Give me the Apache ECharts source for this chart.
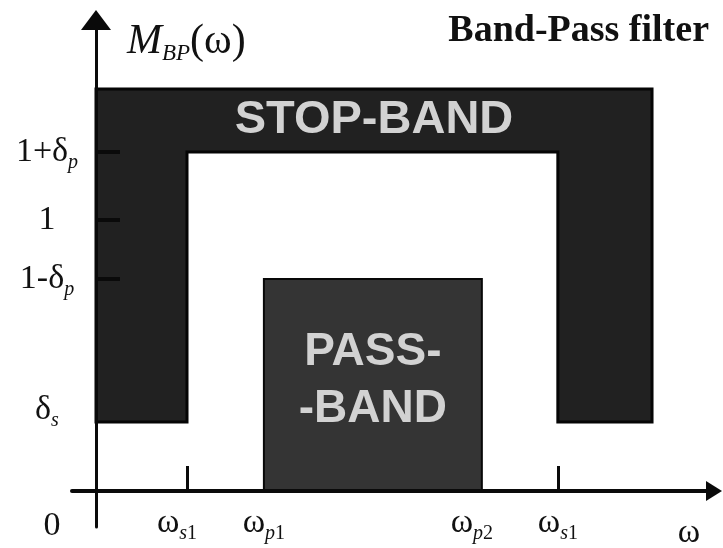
<!DOCTYPE html>
<html><head><meta charset="utf-8">
<script src="https://cdn.jsdelivr.net/npm/echarts@6/dist/echarts.min.js"></script>
<style>html,body{margin:0;padding:0;background:#fff}#c{width:723px;height:548px}</style>
</head><body><div id="c"></div>
<script>
// ---- data ----
const freqLabels = ['ωs1', 'ωp1', 'ωp2', 'ωs1'];
const freqValues = [2.0, 3.69, 8.48, 10.15];
const freqTicks = [2.0, 10.15];
const stopBandEdges = [0, 12.22];
const magLabels = ['δs', '1-δp', '1', '1+δp'];
const magValues = [0.255, 0.782, 1.0, 1.251];
const magTicks = [0.782, 1.0, 1.251];
const stopBandTop = 1.483;
const bandNames = ['STOP-BAND', 'PASS-\n-BAND'];

// ---- derived shapes ----
const ws1 = freqValues[0], wp1 = freqValues[1], wp2 = freqValues[2], ws2 = freqValues[3];
const ds = magValues[0], pLow = magValues[1], pHigh = magValues[3];
const stopVertices = [
  [stopBandEdges[0], stopBandTop], [stopBandEdges[1], stopBandTop],
  [stopBandEdges[1], ds], [ws2, ds], [ws2, pHigh], [ws1, pHigh],
  [ws1, ds], [stopBandEdges[0], ds]
];
const passRect = [[wp1, 0, wp2, pLow]];

const SERIF = '"Liberation Serif", "Times New Roman", serif';
const INK = '#111';

const xLabelText = [
  '{w|ω}{si|s}{snL|1}',
  '{w|ω}{si|p}{sn|1}',
  '{w|ω}{si|p}{snL|2}',
  '{w|ω}{si|s}{sn|1}'
];
const yLabelText = [
  '{d2|δ}{s2|s}',
  '{m|1-δ}{s|p}',
  '{m|1}',
  '{m|1+δ}{s|p}'
];

const chart = echarts.init(document.getElementById('c'));
chart.setOption({
  backgroundColor: '#fff',
  animation: false,
  title: {
    text: 'Band-Pass filter', right: 14, top: 12, padding: 0,
    textStyle: { fontFamily: SERIF, fontWeight: 'bold', fontSize: 38, color: INK }
  },
  grid: { left: 72, right: 9, top: 20, bottom: 21, containLabel: false, outerBoundsMode: 'none' },
  xAxis: {
    type: 'value', min: -0.5275, max: 13.582, z: 5,
    splitLine: { show: false },
    axisLine: { show: true, onZero: true, symbol: ['none', 'triangle'], symbolSize: [20, 16],
      lineStyle: { color: '#0a0a0a', width: 4 } },
    axisTick: { show: true, customValues: freqTicks, inside: true, length: 25,
      lineStyle: { color: '#0a0a0a', width: 3 } },
    axisLabel: {
      show: true, customValues: freqValues, margin: -21, hideOverlap: false,
      formatter: function (v) { const i = freqValues.indexOf(v); return i < 0 ? '' : xLabelText[i]; },
      rich: {
        w: { fontFamily: SERIF, fontSize: 34, lineHeight: 34, color: INK },
        si: { fontFamily: SERIF, fontSize: 20, fontStyle: 'italic', lineHeight: 34, verticalAlign: 'top', padding: [18, 0, 0, 0], color: INK },
        sn: { fontFamily: SERIF, fontSize: 20, lineHeight: 34, verticalAlign: 'top', padding: [18, 0, 0, 0], color: INK },
        snL: { fontFamily: SERIF, fontSize: 20, lineHeight: 34, verticalAlign: 'top', padding: [18, 20, 0, 0], color: INK }
      }
    }
  },
  yAxis: {
    type: 'value', min: -0.1328, max: 1.738, z: 5,
    splitLine: { show: false },
    axisLine: { show: true, onZero: true, symbol: ['none', 'triangle'], symbolSize: [30, 20],
      lineStyle: { color: '#0a0a0a', width: 3 } },
    axisTick: { show: true, customValues: magTicks, inside: true, length: 24,
      lineStyle: { color: '#0a0a0a', width: 4 } },
    axisLabel: {
      show: true, customValues: magValues, margin: 25, align: 'center', hideOverlap: false,
      formatter: function (v) { const i = magValues.indexOf(v); return i < 0 ? '' : yLabelText[i]; },
      rich: {
        m: { fontFamily: SERIF, fontSize: 34, lineHeight: 34, color: INK },
        s: { fontFamily: SERIF, fontSize: 20, fontStyle: 'italic', lineHeight: 34, verticalAlign: 'top', padding: [18, 0, 0, 0], color: INK },
        d2: { fontFamily: SERIF, fontSize: 34, lineHeight: 58, verticalAlign: 'top', color: INK },
        s2: { fontFamily: SERIF, fontSize: 20, fontStyle: 'italic', lineHeight: 58, verticalAlign: 'top', padding: [18, 0, 0, 0], color: INK }
      }
    }
  },
  graphic: [
    { type: 'text', x: 127, y: 42, z: 10,
      style: { text: '{a|M}{b|BP}{c|(ω)}', verticalAlign: 'middle', align: 'left',
        rich: {
          a: { fontFamily: SERIF, fontSize: 42, fontStyle: 'italic', lineHeight: 42, fill: INK, color: INK },
          b: { fontFamily: SERIF, fontSize: 23, fontStyle: 'italic', lineHeight: 42, verticalAlign: 'top', padding: [21, 0, 0, 0], fill: INK, color: INK },
          c: { fontFamily: SERIF, fontSize: 42, lineHeight: 42, fill: INK, color: INK }
        } } },
    { type: 'text', x: 52, y: 526, style: { text: '0', font: '34px ' + SERIF, fill: INK, align: 'center', verticalAlign: 'middle' } },
    { type: 'text', x: 689, y: 533, style: { text: 'ω', font: '34px ' + SERIF, fill: INK, align: 'center', verticalAlign: 'middle' } }
  ],
  series: [
    {
      type: 'custom', coordinateSystem: 'cartesian2d', z: 2, silent: true,
      data: stopVertices, encode: { x: 0, y: 1 },
      renderItem: function (params, api) {
        if (params.dataIndex !== 0) return null;
        const pts = stopVertices.map(function (p) { return api.coord(p); });
        const tl = api.coord([stopBandEdges[0], stopBandTop]);
        const br = api.coord([stopBandEdges[1], pHigh]);
        return { type: 'group', children: [
          { type: 'polygon', shape: { points: pts }, style: { fill: '#212121', stroke: '#050505', lineWidth: 3 } },
          { type: 'text', x: (tl[0] + br[0]) / 2, y: (tl[1] + br[1]) / 2,
            style: { text: bandNames[0], fill: '#d2d2d2', font: 'bold 47px "Liberation Sans", Arial, sans-serif',
              align: 'center', verticalAlign: 'middle', textAlign: 'center', textVerticalAlign: 'middle' } }
        ] };
      }
    },
    {
      type: 'custom', coordinateSystem: 'cartesian2d', z: 2, silent: true,
      data: passRect, encode: { x: [0, 2], y: [1, 3] },
      renderItem: function (params, api) {
        const p0 = api.coord([api.value(0), api.value(1)]);
        const p1 = api.coord([api.value(2), api.value(3)]);
        const cx = (p0[0] + p1[0]) / 2, cy = (p0[1] + p1[1]) / 2;
        return { type: 'group', children: [
          { type: 'rect', shape: { x: p0[0], y: p1[1], width: p1[0] - p0[0], height: p0[1] - p1[1] },
            style: { fill: '#343434', stroke: '#080808', lineWidth: 2 } },
          { type: 'text', x: cx, y: cy - 4,
            style: { text: bandNames[1], fill: '#d2d2d2', font: 'bold 46px "Liberation Sans", Arial, sans-serif',
              lineHeight: 57, align: 'center', verticalAlign: 'middle', textAlign: 'center', textVerticalAlign: 'middle' } }
        ] };
      }
    }
  ]
});
</script>
</body></html>
